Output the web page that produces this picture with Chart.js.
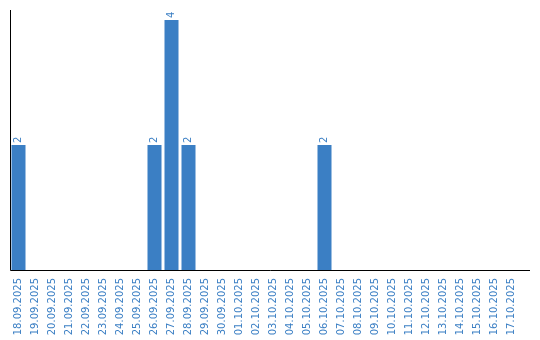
<!DOCTYPE html>
<html>
<head>
<meta charset="utf-8">
<script src="https://cdn.jsdelivr.net/npm/chart.js@4"></script>
<style>
html,body{margin:0;padding:0;background:#fff;}
#wrap{width:540px;height:340px;position:relative;}
</style>
</head>
<body>
<div id="wrap"><canvas id="c" width="540" height="340"></canvas></div>
<script>
const categories = ["18.09.2025","19.09.2025","20.09.2025","21.09.2025","22.09.2025","23.09.2025","24.09.2025","25.09.2025","26.09.2025","27.09.2025","28.09.2025","29.09.2025","30.09.2025","01.10.2025","02.10.2025","03.10.2025","04.10.2025","05.10.2025","06.10.2025","07.10.2025","08.10.2025","09.10.2025","10.10.2025","11.10.2025","12.10.2025","13.10.2025","14.10.2025","15.10.2025","16.10.2025","17.10.2025"];
const counts = [2,0,0,0,0,0,0,0,2,4,2,0,0,0,0,0,0,0,2,0,0,0,0,0,0,0,0,0,0,0];

const BLUE = '#3b7fc4';
const FONT = '"DejaVu Sans", Verdana, sans-serif';

const axisLines = {
  id: 'axisLines',
  afterDraw(chart) {
    const {ctx, chartArea: a} = chart;
    ctx.save();
    ctx.strokeStyle = '#000';
    ctx.lineWidth = 1;
    ctx.beginPath();
    ctx.moveTo(a.left + 0.5, a.top - 10);
    ctx.lineTo(a.left + 0.5, a.bottom + 0.5);
    ctx.lineTo(a.right + 10, a.bottom + 0.5);
    ctx.stroke();
    ctx.restore();
  }
};

const valueLabels = {
  id: 'valueLabels',
  afterDatasetsDraw(chart) {
    const {ctx} = chart;
    const meta = chart.getDatasetMeta(0);
    ctx.save();
    ctx.fillStyle = BLUE;
    ctx.font = '10px ' + FONT;
    ctx.textAlign = 'left';
    ctx.textBaseline = 'middle';
    meta.data.forEach((bar, i) => {
      const v = counts[i];
      if (!v) return;
      ctx.save();
      ctx.translate(bar.x, bar.y - 2);
      ctx.rotate(-Math.PI / 2);
      ctx.fillText(String(v), 0, 0);
      ctx.restore();
    });
    ctx.restore();
  }
};

new Chart(document.getElementById('c'), {
  type: 'bar',
  data: {
    labels: categories,
    datasets: [{
      data: counts,
      backgroundColor: BLUE,
      borderWidth: 0,
      barPercentage: 14/17,
      categoryPercentage: 1
    }]
  },
  options: {
    responsive: false,
    animation: false,
    devicePixelRatio: 1,
    layout: { padding: { left: 10, top: 20, right: 20, bottom: 0 } },
    plugins: { legend: { display: false }, tooltip: { enabled: false } },
    scales: {
      x: {
        grid: { display: false },
        border: { display: false },
        afterFit(scale) { scale.height = 70; },
        ticks: {
          color: BLUE,
          font: { family: FONT, size: 10 },
          minRotation: 90,
          maxRotation: 90,
          autoSkip: false,
          padding: 0
        }
      },
      y: {
        min: 0,
        max: 4,
        display: false
      }
    }
  },
  plugins: [axisLines, valueLabels]
});
</script>
</body>
</html>
